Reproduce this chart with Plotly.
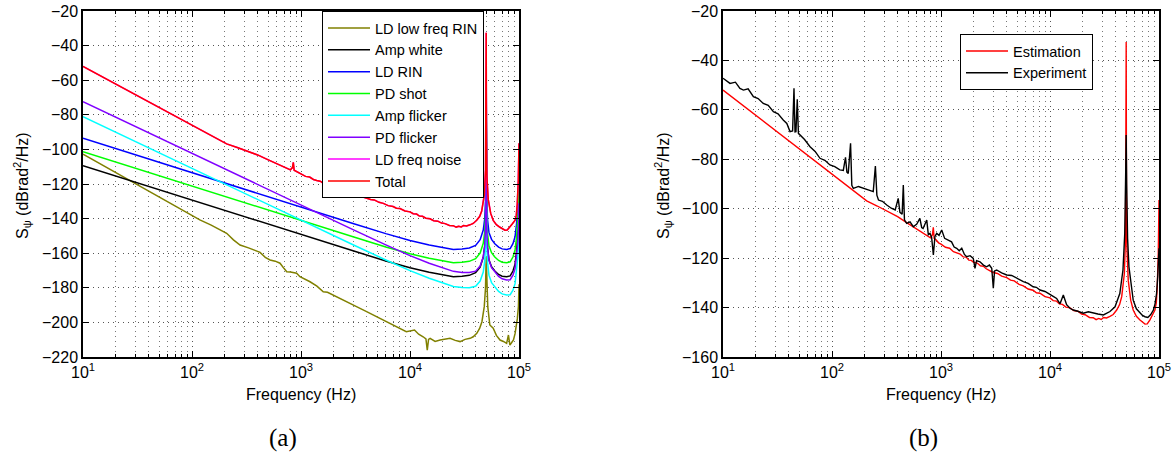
import plotly.graph_objects as go

# ---------------- data ----------------
decade_ticks = [10, 100, 1000, 10000, 100000]
decade_labels = ["10<sup>1</sup>", "10<sup>2</sup>", "10<sup>3</sup>", "10<sup>4</sup>", "10<sup>5</sup>"]
minor_ticks = [20, 30, 40, 50, 60, 70, 80, 90,
               200, 300, 400, 500, 600, 700, 800, 900,
               2000, 3000, 4000, 5000, 6000, 7000, 8000, 9000,
               20000, 30000, 40000, 50000, 60000, 70000, 80000, 90000]

# smooth model components (panel a)
comp_freq = [10, 100, 1000, 3000, 6000, 10000, 15000, 20000, 25000, 30000, 35000, 40000,
             44000, 47000, 48500, 49300, 49700, 50000, 50300, 50700, 51500, 53000, 56000,
             60000, 65000, 70000, 77000, 83000, 88000, 92000, 95000, 97500, 99000, 100000]
amp_white = [-109.4, -129.4, -149.4, -158.6, -164.5, -168.4, -171.0, -172.6, -173.6, -173.3,
             -172.8, -171.3, -168.0, -162.4, -155.8, -145.9, -131.8, -75.8, -133.8, -147.8,
             -156.8, -163.8, -167.8, -170.3, -172.3, -173.3, -173.6, -173.1, -170.3, -166.3,
             -158.8, -150.8, -141.8, -127.8]
ld_rin = [-93.6, -113.6, -133.6, -142.8, -148.7, -152.6, -155.2, -156.8, -157.8, -157.5,
          -157.0, -155.5, -152.2, -146.6, -140.0, -130.1, -116.0, -60.0, -118.0, -132.0,
          -141.0, -148.0, -152.0, -154.5, -156.5, -157.5, -157.8, -157.3, -154.5, -150.5,
          -143.0, -135.0, -126.0, -112.0]
pd_shot = [-101.3, -121.3, -141.3, -150.5, -156.4, -160.3, -162.9, -164.5, -165.5, -165.2,
           -164.7, -163.2, -159.9, -154.3, -147.7, -137.8, -123.7, -67.7, -125.7, -139.7,
           -148.7, -155.7, -159.7, -162.2, -164.2, -165.2, -165.5, -165.0, -162.2, -158.2,
           -150.7, -142.7, -133.7, -119.7]
amp_flicker = [-81.1, -111.1, -141.1, -155.1, -163.9, -170.1, -174.5, -177.3, -179.2, -179.8,
               -179.9, -179.1, -176.1, -170.9, -164.4, -154.5, -140.5, -84.5, -142.6, -156.6,
               -165.7, -172.7, -177.0, -179.7, -182.1, -183.5, -184.2, -184.0, -181.4, -177.6,
               -170.2, -162.4, -153.5, -139.5]
pd_flicker = [-72.4, -102.4, -132.4, -146.4, -155.2, -161.4, -165.8, -168.6, -170.5, -171.1,
              -171.2, -170.4, -167.4, -162.2, -155.7, -145.8, -131.8, -75.8, -133.9, -147.9,
              -157.0, -164.0, -168.3, -171.0, -173.4, -174.8, -175.5, -175.3, -172.7, -168.9,
              -161.5, -153.7, -144.8, -130.8]

# LD low-frequency RIN (measured, noisy)
olive_freq = [10, 20, 40, 70, 100, 118, 150, 208, 240, 276, 330, 421, 470, 520, 580, 642, 700,
              740, 800, 912, 978, 1050, 1210, 1400, 1600, 1750, 1980, 2400, 2820, 3300, 4000,
              4700, 5650, 6700, 8050, 9250, 11000, 12000, 13200, 14000, 14400, 14800, 15300,
              17000, 18900, 21000, 23300, 26000, 28800, 32000, 35600, 38000, 41000, 43500,
              45700, 48000, 49300, 50000, 50600, 51700, 54000, 58000, 62000, 67000, 72000,
              77000, 80000, 82500, 86000, 89000, 92000, 94000, 96500, 98800, 100000]
ld_low_rin = [-102.7, -113.4, -124.0, -132.6, -138.0, -140.7, -143.8, -148.5, -152.3, -155.3,
              -156.9, -159.5, -162.4, -163.9, -164.6, -165.8, -168.9, -170.7, -170.9, -171.6,
              -173.6, -174.5, -176.5, -179.0, -182.3, -182.6, -184.2, -186.9, -189.0, -191.2,
              -193.8, -196.0, -198.6, -201.3, -203.4, -205.4, -204.4, -206.8, -208.3, -209.5,
              -216.0, -209.8, -209.2, -211.0, -210.2, -209.5, -209.2, -210.4, -211.1, -209.8,
              -209.2, -208.3, -206.3, -203.5, -199.6, -190.9, -180.0, -162.0, -180.0, -190.9,
              -201.5, -203.4, -207.5, -210.2, -211.0, -212.1, -207.3, -213.1, -211.5, -210.2,
              -206.5, -203.4, -198.0, -190.9, -178.0]

# total / estimation
total_freq = [10, 100, 208, 260, 318, 400, 484, 560, 640, 740, 800, 835, 850, 865, 900, 950,
              1000, 1100, 1200, 1300, 1393, 1500, 1600, 1700, 1800, 1900, 1978, 2150, 2300,
              2450, 2600, 2818, 3000, 3300, 3600, 4008, 4350, 4700, 5200, 5690, 6300, 7000,
              7500, 8090, 9000, 10000, 10700, 11500, 12200, 13000, 14000, 15250, 16500, 18000,
              19500, 21000, 23000, 24900, 26500, 28000, 29500, 31000, 33000, 35500, 38000,
              40900, 43500, 45500, 48100, 49300, 49700, 50000, 50300, 50700, 52200, 55000,
              58000, 62000, 66900, 70500, 74400, 78000, 82600, 87000, 91800, 94500, 96400,
              98500, 100000]
total_db = [-52.0, -86.0, -96.8, -98.9, -100.8, -103.2, -105.6, -107.3, -109.0, -110.9,
            -111.8, -110.5, -107.5, -112.0, -112.6, -113.8, -114.3, -115.6, -116.0, -117.4,
            -118.0, -118.4, -119.5, -119.6, -120.8, -120.9, -121.6, -122.0, -123.1, -123.3,
            -124.3, -125.0, -125.8, -126.2, -127.3, -127.9, -128.9, -129.2, -130.6, -131.2,
            -132.5, -133.0, -134.0, -134.2, -135.6, -136.1, -137.2, -137.4, -138.5, -138.7,
            -139.8, -140.1, -141.2, -141.5, -142.6, -142.9, -144.0, -144.1, -144.9, -144.4,
            -144.8, -144.0, -144.2, -143.6, -142.8, -141.0, -138.8, -135.6, -126.2, -112.0,
            -90.0, -32.5, -95.0, -115.0, -128.9, -137.0, -141.0, -143.5, -145.0, -146.0,
            -146.7, -146.6, -145.0, -143.0, -141.0, -138.0, -131.6, -118.0, -96.5]
ld_freq_noise = total_db  # hidden below the total curve

# experiment (panel b)
exp_freq = [10, 11.6, 13, 14.3, 15.4, 17, 19, 21, 23.4, 26,
            29, 32, 35.7, 38.5, 41.2, 43.5, 44.8, 45.8, 46.7, 48,
            49.2, 50.9, 56, 62.9, 70, 77.6, 86, 95.8, 106, 118,
            127, 133, 137, 141, 148, 152, 157, 175, 194, 215,
            239, 250, 258, 267, 290, 318, 350, 380, 405, 420,
            440, 451, 462, 484, 520, 557, 600, 640, 665, 685,
            715, 740, 765, 793, 820, 851, 880, 913, 960, 1015,
            1080, 1166, 1250, 1320, 1393, 1470, 1550, 1640, 1720, 1850,
            1978, 2050, 2120, 2280, 2450, 2620, 2780, 2920, 3020, 3100,
            3240, 3600, 4010, 4450, 4970, 5300, 5690, 6300, 7000, 7500,
            8090, 9000, 10000, 10700, 11500, 12360, 13250, 14200, 15250, 16370,
            18000, 20200, 22500, 24900, 27500, 30900, 33000, 35500, 39500, 43700,
            46700, 48500, 49500, 50000, 50500, 51500, 53000, 55500, 58000, 62000,
            66900, 70500, 74400, 79000, 84000, 88800, 92000, 95000, 97500, 99300,
            100000]
exp_db = [-47.2, -49.3, -48.8, -51.3, -52.0, -51.5, -54.7, -55.4, -57.4, -58.2,
          -60.7, -61.6, -64.1, -65.5, -68.8, -68.5, -51.3, -68.9, -68.8, -55.7,
          -69.5, -70.2, -72.0, -74.9, -76.8, -79.6, -80.4, -82.3, -83.0, -84.3,
          -84.5, -79.2, -85.2, -85.7, -73.5, -90.5, -91.8, -91.0, -91.8, -92.6,
          -93.1, -82.7, -94.5, -96.5, -97.0, -98.5, -99.8, -100.5, -95.8, -101.5,
          -102.2, -90.4, -104.5, -105.9, -105.3, -107.3, -106.2, -103.9, -107.6, -108.0,
          -106.0, -104.6, -110.5, -110.0, -111.5, -118.7, -111.2, -110.0, -110.8, -108.6,
          -112.0, -112.7, -113.4, -115.5, -116.0, -117.0, -116.0, -118.5, -119.4, -119.0,
          -120.1, -124.1, -121.0, -121.5, -122.8, -123.5, -122.8, -124.1, -132.2, -125.2,
          -124.8, -126.0, -126.8, -127.0, -128.2, -128.8, -129.5, -130.2, -131.6, -131.8,
          -132.9, -133.5, -134.9, -135.5, -136.3, -138.5, -134.9, -138.8, -140.3, -141.0,
          -141.5, -142.3, -141.7, -142.3, -142.6, -143.0, -142.2, -141.6, -139.7, -134.3,
          -124.8, -110.0, -85.0, -70.2, -90.0, -112.0, -123.5, -131.0, -137.0, -140.5,
          -142.3, -143.2, -143.7, -144.0, -142.8, -141.0, -138.5, -134.3, -127.0, -120.0,
          -116.0]

# ---------------- figure ----------------
W, H = 1176, 455
FONT = "Liberation Sans, Arial, Helvetica, sans-serif"

fig = go.Figure()

left_series = [
    ("LD low freq RIN", olive_freq, ld_low_rin, "#808000"),
    ("Amp white", comp_freq, amp_white, "#000000"),
    ("LD RIN", comp_freq, ld_rin, "#0000ff"),
    ("PD shot", comp_freq, pd_shot, "#00ff00"),
    ("Amp flicker", comp_freq, amp_flicker, "#00ffff"),
    ("PD flicker", comp_freq, pd_flicker, "#8000ff"),
    ("LD freq noise", total_freq, ld_freq_noise, "#ff00ff"),
    ("Total", total_freq, total_db, "#ff0000"),
]
for name, fx, fy, col in left_series:
    fig.add_trace(go.Scatter(x=fx, y=fy, name=name, mode="lines",
                             line=dict(color=col, width=1.5),
                             xaxis="x", yaxis="y", legend="legend"))

fig.add_trace(go.Scatter(x=total_freq, y=total_db, name="Estimation", mode="lines",
                         line=dict(color="#ff0000", width=1.4),
                         xaxis="x2", yaxis="y2", legend="legend2"))
fig.add_trace(go.Scatter(x=exp_freq, y=exp_db, name="Experiment", mode="lines",
                         line=dict(color="#000000", width=1.4),
                         xaxis="x2", yaxis="y2", legend="legend2"))

grid_dash = "1px,4px"


def xax(domain, anchor):
    return dict(type="log", range=[1, 5], domain=domain, anchor=anchor, automargin=False,
                tickmode="array", tickvals=decade_ticks, ticktext=decade_labels,
                ticks="inside", ticklen=6, tickwidth=1, tickcolor="black",
                showline=True, linecolor="black", linewidth=1.5, mirror="ticks",
                showgrid=True, gridcolor="#555555", gridwidth=1, griddash=grid_dash,
                zeroline=False,
                minor=dict(tickmode="array", tickvals=minor_ticks, ticks="inside",
                           ticklen=3, tickcolor="black", showgrid=True,
                           gridcolor="#777777", gridwidth=1, griddash=grid_dash),
                tickfont=dict(family=FONT, size=16, color="black"))


def yax(domain, anchor, lo, hi):
    return dict(range=[lo, hi], domain=domain, anchor=anchor, automargin=False,
                tickmode="linear", tick0=hi, dtick=20,
                ticks="inside", ticklen=6, tickwidth=1, tickcolor="black",
                showline=True, linecolor="black", linewidth=1.5, mirror="ticks",
                showgrid=True, gridcolor="#555555", gridwidth=1, griddash=grid_dash,
                zeroline=False,
                tickfont=dict(family=FONT, size=16, color="black"))


ydom = [1 - 357 / H, 1 - 11 / H]
fig.update_layout(
    width=W, height=H,
    margin=dict(l=0, r=0, t=0, b=0, autoexpand=False),
    paper_bgcolor="white", plot_bgcolor="white",
    showlegend=True,
    xaxis=xax([83 / W, 519 / W], "y"),
    yaxis=yax(ydom, "x", -220, -20),
    xaxis2=xax([723 / W, 1159 / W], "y2"),
    yaxis2=yax(ydom, "x2", -160, -20),
    legend=dict(x=484 / W, y=1 - 11 / H, xanchor="right", yanchor="top",
                bgcolor="white", bordercolor="black", borderwidth=1,
                itemwidth=42, tracegroupgap=0,
                font=dict(family=FONT, size=14.5, color="black")),
    legend2=dict(x=1093 / W, y=1 - 34 / H, xanchor="right", yanchor="top",
                 bgcolor="white", bordercolor="black", borderwidth=1,
                 itemwidth=42, tracegroupgap=0,
                 font=dict(family=FONT, size=14.5, color="black")),
    hovermode=False,
)

ylabel = "S<sub>ψ</sub> (dBrad<sup>2</sup>/Hz)"
annots = [
    dict(text="Frequency (Hz)", x=301 / W, y=1 - 394 / H),
    dict(text="Frequency (Hz)", x=941 / W, y=1 - 394 / H),
    dict(text=ylabel, x=22 / W, y=1 - 186 / H, textangle=-90),
    dict(text=ylabel, x=663 / W, y=1 - 186 / H, textangle=-90),
]
for a in annots:
    fig.add_annotation(xref="paper", yref="paper", showarrow=False,
                       xanchor="center", yanchor="middle",
                       font=dict(family=FONT, size=16, color="black"), **a)

for txt, cx in [("(a)", 283), ("(b)", 923)]:
    fig.add_annotation(text=txt, xref="paper", yref="paper", x=cx / W, y=1 - 438 / H,
                       showarrow=False, xanchor="center", yanchor="middle",
                       font=dict(family="Liberation Serif, DejaVu Serif, serif", size=25,
                                 color="black"))

fig.write_html("out.html", config={"displayModeBar": False},
               post_script="document.body.style.margin='0';")
